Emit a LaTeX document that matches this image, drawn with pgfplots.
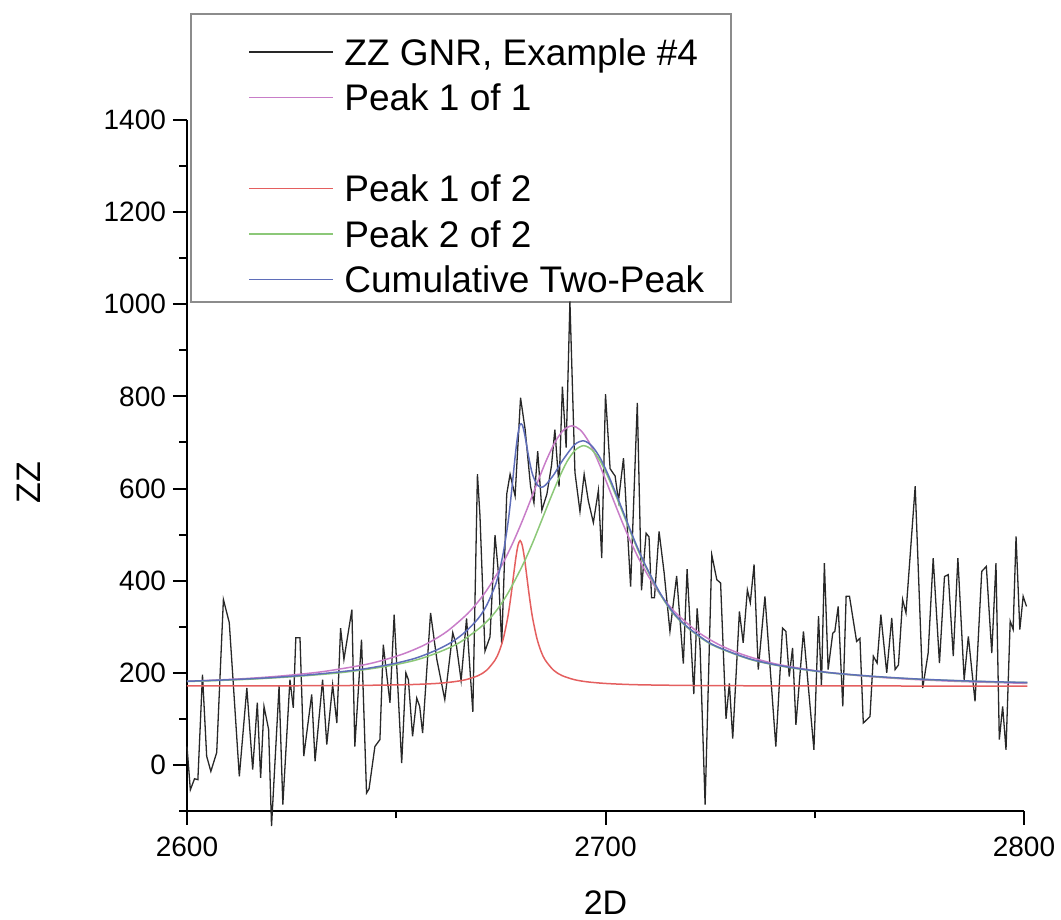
\documentclass[border=0pt]{standalone}
\usepackage{pgfplots}
\usepackage{pgfplotstable}
\pgfplotsset{compat=1.18}
\usepackage{fontspec}
\setmainfont{Liberation Sans}

\definecolor{spec}{RGB}{40,40,40}
\definecolor{pkone}{RGB}{200,125,200}
\definecolor{pkred}{RGB}{228,95,95}
\definecolor{pkgreen}{RGB}{140,200,120}
\definecolor{pkblue}{RGB}{95,110,185}

% measured 2D band
\pgfplotstableread{
x y
2600.0 40
2600.8 -54
2601.8 -30
2602.6 -32
2603.7 196
2604.7 19
2605.7 -14
2607.1 27
2608.7 359
2610.1 309
2611.0 185
2612.5 -25
2614.3 167
2615.7 -10
2616.8 135
2617.6 -28
2618.4 127
2619.5 77
2620.2 -133
2622.0 171
2622.9 -86
2624.6 185
2625.4 124
2626.0 276
2627.0 276
2627.9 19
2629.8 153
2630.6 8
2632.4 185
2633.4 44
2634.8 174
2635.8 91
2636.7 297
2637.5 229
2639.4 337
2640.1 40
2641.7 272
2642.9 -61
2643.5 -52
2644.9 40
2646.1 55
2646.9 261
2648.5 135
2649.5 326
2651.3 4
2652.3 200
2652.9 185
2653.9 62
2654.9 145
2655.6 127
2656.3 69
2658.2 330
2659.7 229
2661.6 142
2663.5 287
2664.4 258
2665.5 183
2666.8 318
2668.3 115
2669.4 631
2670.0 542
2671.2 247
2672.4 278
2673.6 499
2674.4 418
2675.2 263
2676.4 588
2677.2 631
2678.4 584
2679.7 797
2680.8 728
2682.1 604
2682.9 569
2683.8 681
2684.8 553
2686.0 588
2687.1 650
2687.9 728
2688.9 604
2689.7 821
2690.6 689
2691.5 1006
2692.7 635
2693.9 550
2694.9 631
2695.9 573
2697.1 526
2698.3 596
2699.1 449
2700.0 805
2701.1 643
2702.3 627
2703.1 573
2704.3 666
2706.0 387
2707.6 786
2708.6 379
2709.7 503
2710.4 495
2711.0 363
2711.7 363
2712.8 507
2714.0 418
2715.4 290
2717.0 410
2718.6 220
2719.5 425
2721.1 154
2721.9 340
2722.6 255
2723.8 -86
2725.4 456
2726.6 402
2727.5 395
2728.8 100
2729.6 177
2730.4 57
2732.0 333
2732.9 265
2733.9 380
2734.6 352
2735.5 435
2736.5 207
2738.1 366
2740.7 40
2742.3 297
2743.1 290
2743.9 192
2744.7 254
2745.5 87
2747.3 290
2749.8 33
2750.9 323
2751.6 171
2752.3 438
2753.2 207
2754.3 286
2754.8 290
2755.6 344
2756.7 127
2757.5 366
2758.3 366
2760.0 268
2760.8 275
2761.6 91
2763.2 105
2764.0 236
2764.9 221
2765.8 326
2767.2 200
2768.4 319
2769.2 207
2770.0 217
2771.0 359
2771.8 330
2774.0 605
2775.8 167
2777.1 243
2778.3 449
2779.8 221
2781.0 409
2781.9 413
2783.1 236
2784.2 449
2785.7 185
2786.7 279
2788.3 138
2789.9 420
2791.0 431
2792.3 243
2793.3 438
2794.1 55
2794.9 127
2795.7 33
2796.7 312
2797.4 294
2798.1 496
2799.0 294
2799.8 366
2800.6 344
}\spectrum

% single-peak fit
\pgfplotstableread{
x y
2600 181.4
2612 186.4
2622 192.7
2632 202.0
2642 216.8
2647 227.7
2652 242.1
2657 261.7
2662 289.0
2667 328.0
2670 359.2
2672 384.4
2674 413.5
2676 446.9
2678 484.8
2680 527.1
2682 572.7
2684 619.5
2686 664.0
2688 701.7
2690 727.0
2692 736.0
2694 727.0
2696 701.7
2698 664.0
2700 619.5
2702 572.7
2704 527.1
2706 484.8
2708 446.9
2710 413.5
2712 384.4
2714 359.2
2717 328.0
2722 289.0
2727 261.7
2732 242.1
2737 227.7
2742 216.8
2752 202.0
2762 192.7
2772 186.4
2784 181.4
2800.8 177.0
}\peakone

% two-peak fit: first component
\pgfplotstableread{
x y
2600 171.4
2620 171.7
2630 172.0
2640 172.5
2650 173.7
2655 174.9
2660 177.1
2663.6 180.4
2666.6 185.0
2669.6 194.0
2671.6 205.5
2673.6 227.5
2674.6 246.4
2675.6 275.0
2676.6 318.0
2677.1 346.8
2677.6 380.0
2678.1 416.5
2678.6 451.0
2679.1 477.0
2679.6 487.0
2680.1 477.0
2680.6 451.0
2681.1 416.5
2681.6 380.0
2682.1 346.8
2682.6 318.0
2683.6 275.0
2684.6 246.4
2685.6 227.5
2687.6 205.5
2689.6 194.0
2692.6 185.0
2695.6 180.4
2699.6 177.1
2704.6 174.9
2709.6 173.7
2719.6 172.5
2729.6 172.0
2739.6 171.7
2759.6 171.4
2800.8 171.2
}\peakredtab

% two-peak fit: second component
\pgfplotstableread{
x y
2600 181.2
2605 182.5
2615 186.1
2625 191.4
2635 198.7
2640 203.9
2645 210.2
2650 218.0
2655 228.4
2660 244.1
2665 265.0
2670 297.8
2672.8 322.4
2674.8 345.9
2676.8 374.6
2678.8 408.5
2680.8 445.0
2682.8 486.8
2684.8 532.2
2686.8 577.6
2688.8 621.0
2690.8 658.5
2692.8 683.6
2694.8 693.0
2696.8 683.6
2698.8 658.5
2700.8 621.0
2702.8 577.6
2704.8 532.2
2706.8 486.8
2708.8 445.0
2710.8 408.5
2712.8 374.6
2714.8 345.9
2716.8 322.4
2719.8 296.3
2724.8 263.9
2729.8 244.1
2734.8 228.4
2739.8 218.0
2744.8 210.2
2749.8 203.9
2754.8 198.7
2764.8 191.4
2774.8 186.1
2784.8 182.5
2794.8 179.9
2800.8 178.8
}\peakgreentab

% two-peak fit: cumulative curve
\pgfplotstableread{
x y
2600 181.6
2610 184.9
2620 189.4
2630 196.2
2640 205.6
2645 212.5
2650 221.0
2655 232.9
2660 251.0
2663.6 268.6
2666.6 289.6
2669.6 318.0
2671.6 346.5
2673.6 388.3
2674.6 418.9
2675.6 461.4
2676.6 518.7
2677.1 555.4
2677.6 597.2
2678.1 642.1
2678.6 685.1
2679.1 720.0
2679.6 739.1
2680.1 738.3
2680.6 721.4
2681.1 696.8
2681.6 670.8
2682.1 648.0
2682.6 629.6
2683.6 609.0
2684.6 602.9
2685.6 607.0
2687.6 629.4
2689.6 659.1
2692.6 695.0
2694.8 703.4
2696.8 691.8
2698.8 665.1
2700.8 626.4
2702.8 582.1
2704.8 536.1
2706.8 490.1
2708.8 447.9
2710.8 411.0
2712.8 376.9
2714.8 347.9
2716.8 324.2
2719.8 297.9
2724.8 265.3
2729.8 245.2
2734.8 229.3
2739.8 218.8
2744.8 210.9
2749.8 204.5
2754.8 199.2
2764.8 191.8
2774.8 186.4
2784.8 182.8
2794.8 180.1
2800.8 179.0
}\cumtab

\begin{document}
\begin{tikzpicture}
\useasboundingbox (-93.5pt,-54.5pt) rectangle (437pt,405.5pt);
\begin{axis}[
  scale only axis,
  width=418.5pt, height=345.5pt,
  xmin=2600, xmax=2800, ymin=-100, ymax=1400,
  axis x line*=bottom, axis y line*=left,
  axis line style={line width=1pt, black},
  xtick={2600,2700,2800}, minor xtick={2650,2750},
  ytick={0,200,...,1400}, minor ytick={-100,100,...,1300},
  tick align=outside,
  major tick length=7pt, minor tick length=3.75pt,
  every tick/.style={black, line width=1pt},
  tick label style={font=\fontsize{14}{16}\selectfont},
  xticklabel style={yshift=-2.5pt},
  /pgf/number format/assume math mode=true,
  /pgf/number format/1000 sep={},
  xlabel={2D}, ylabel={ZZ},
  label style={font=\fontsize{17}{20}\selectfont},
  xlabel style={at={(axis description cs:0.5,0)}, anchor=center, yshift=-46pt},
  ylabel style={at={(axis description cs:-0.1888,0.475)}, anchor=center},
  clip=false,
  legend cell align=left,
  legend image code/.code={\draw[#1] (0pt,0pt) -- (42pt,0pt);},
  legend style={at={(axis description cs:0.0729,1.1179)}, anchor=north west,
    draw=none, fill=none, inner sep=0pt,
    row sep=9.55pt, column sep=5.25pt,
    font=\fontsize{18.5}{22}\selectfont,
    nodes={inner sep=0pt, text height=13.2pt, text depth=0pt}},
]
% legend frame
\draw[draw=black!45, line width=1pt, fill=white]
  (axis description cs:0.0048,1.1534) rectangle (axis description cs:0.650,0.7370);

\addplot[spec, line width=0.65pt] table {\spectrum};
\addlegendentry{ZZ GNR, Example \#4}
\addplot[pkone, line width=0.75pt, smooth] table {\peakone};
\addlegendentry{Peak 1 of 1}
\addlegendimage{empty legend}
\addlegendentry{\phantom{Peak}}
\addplot[pkred, line width=0.75pt, smooth] table {\peakredtab};
\addlegendentry{Peak 1 of 2}
\addplot[pkgreen, line width=0.75pt, smooth] table {\peakgreentab};
\addlegendentry{Peak 2 of 2}
\addplot[pkblue, line width=0.75pt, smooth] table {\cumtab};
\addlegendentry{Cumulative Two-Peak}
\end{axis}
\end{tikzpicture}
\end{document}
